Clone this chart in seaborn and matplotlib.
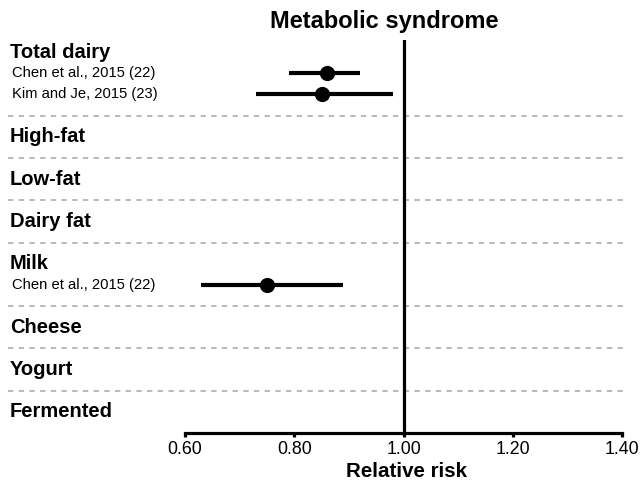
import numpy as np
import pandas as pd
import seaborn as sns
import matplotlib.pyplot as plt

# data
groups = ["Total dairy", "High-fat", "Low-fat", "Dairy fat", "Milk", "Cheese", "Yogurt", "Fermented"]
study_group = ["Total dairy", "Total dairy", "Milk"]
study_name = ["Chen et al., 2015 (22)", "Kim and Je, 2015 (23)", "Chen et al., 2015 (22)"]
rr = [0.86, 0.85, 0.75]
rr_low = [0.79, 0.73, 0.63]
rr_high = [0.92, 0.98, 0.89]
ticks = [0.60, 0.80, 1.00, 1.20, 1.40]

sns.set_theme(style="white")
plt.rcParams["font.family"] = ["Liberation Sans", "DejaVu Sans"]
plt.rcParams["text.color"] = "black"

# build row layout: header, its studies, then a dashed separator
rows = []
dash_y = []
k = 0
for g in groups:
    rows.append((k, g, "header"))
    k += 1
    for name, grp in zip(study_name, study_group):
        if grp == g:
            rows.append((k, name, "study"))
            k += 1
    if g != groups[-1]:
        dash_y.append(k)
        k += 1

study_rows = [r for r in rows if r[2] == "study"]
df = pd.DataFrame({
    "study": study_name,
    "rr": rr,
    "low": rr_low,
    "high": rr_high,
    "y": [r[0] for r in study_rows],
})

fig = plt.figure(figsize=(6.41, 4.83), dpi=100)
ax = fig.add_axes([8 / 641, 50 / 483, 617 / 641, 393 / 483])

px = 0.8 / 437
ax.set_xlim(0.6 - 177 * px, 1.4 + 3 * px)
last = rows[-1][0]
ax.set_ylim(last + 1.0, -0.57)

for y in dash_y:
    ax.axhline(y, color="#a6a6a6", lw=1.1, ls=(0, (3.5, 3.5)), zorder=1)

ax.axvline(1.0, color="black", lw=2.3, zorder=2)

ax.hlines(df["y"], df["low"], df["high"], color="black", lw=3.0, zorder=3)
sns.scatterplot(data=df, x="rr", y="y", color="black", s=120, edgecolor="black",
                linewidth=0, zorder=4, ax=ax, legend=False)

tr = ax.get_yaxis_transform()
for y, label, kind in rows:
    if kind == "header":
        ax.text(0.003, y, label, transform=tr, fontsize=14.5, fontweight="bold",
                va="center", ha="left", color="black")
    else:
        ax.text(0.007, y, label, transform=tr, fontsize=10.6, va="center",
                ha="left", color="black")

for s in ["top", "right", "left"]:
    ax.spines[s].set_visible(False)
ax.spines["bottom"].set_bounds(0.6, 1.4)
ax.spines["bottom"].set_linewidth(2.3)
ax.spines["bottom"].set_color("black")
ax.set_yticks([])
ax.set_xticks(ticks)
ax.set_xticklabels([f"{t:.2f}" for t in ticks])
ax.tick_params(axis="x", bottom=True, length=3, width=2.3, color="black",
               labelsize=12.8, pad=3, labelcolor="black")
ax.set_xlabel("")
ax.set_ylabel("")

xtr = ax.get_xaxis_transform()
ax.text(1.005, -0.099, "Relative risk", transform=xtr, fontsize=14.8,
        fontweight="bold", ha="center", va="center", color="black")
ax.text(0.965, 1.046, "Metabolic syndrome", transform=xtr, fontsize=17,
        fontweight="bold", ha="center", va="center", color="black")

fig.savefig("out.png", dpi=100)
